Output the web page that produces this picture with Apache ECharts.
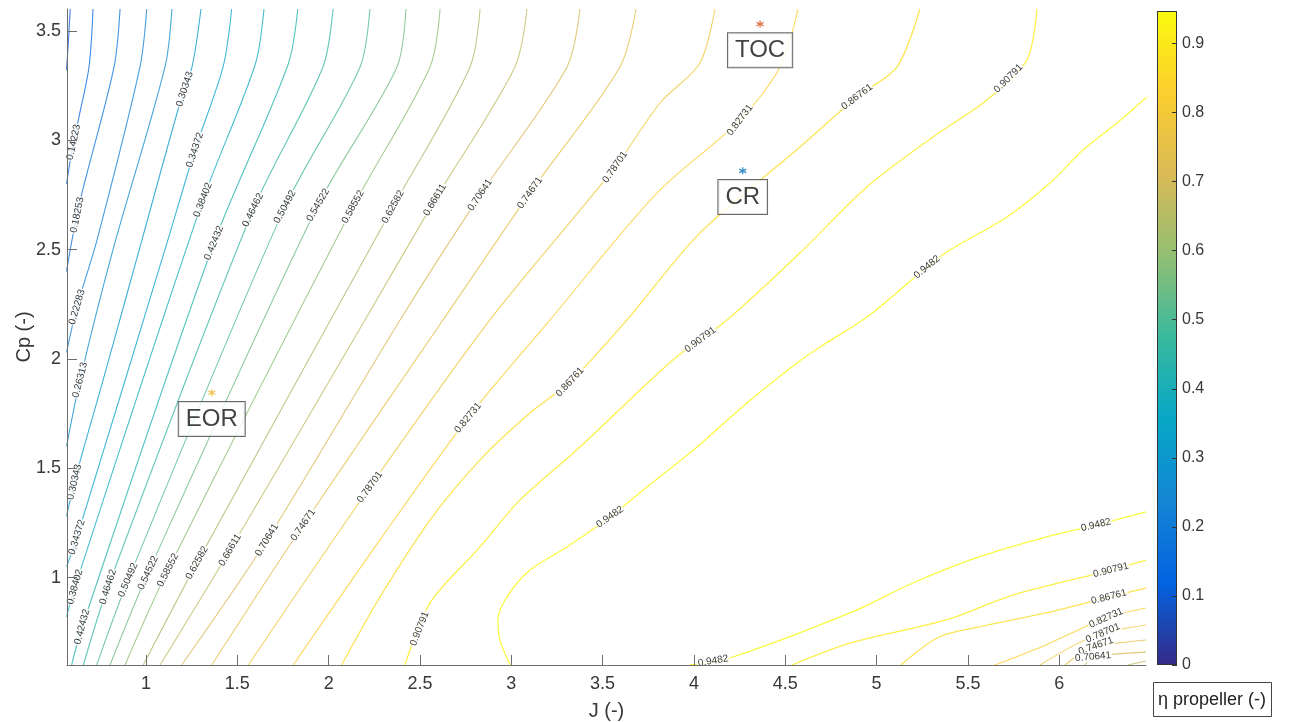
<!DOCTYPE html>
<html><head><meta charset="utf-8">
<script src="https://cdn.jsdelivr.net/npm/echarts@6/dist/echarts.min.js"></script>
<style>html,body{margin:0;padding:0;background:#fff}#c{width:1296px;height:722px}</style>
</head><body><div id="c"></div>
<script>
// ---------- data ----------
const xTicks = [1, 1.5, 2, 2.5, 3, 3.5, 4, 4.5, 5, 5.5, 6];
const yTicks = [1, 1.5, 2, 2.5, 3, 3.5];
const cbTicks = [0, 0.1, 0.2, 0.3, 0.4, 0.5, 0.6, 0.7, 0.8, 0.9];
const etaMin = 0, etaMax = 0.947;
const jRange = [0.5675, 6.475];
const cpRange = [0.6, 3.6];

const c_010193 = [[0.585,3.6],[0.575,3.45],[0.565,3.32]];
const c_014223 = [[0.710,3.6],[0.688,3.335],[0.633,3.106],[0.595,2.955],[0.565,2.80]];
const c_018253 = [[0.858,3.6],[0.825,3.335],[0.644,2.740],[0.595,2.544],[0.565,2.40]];
const c_022283 = [[1.004,3.6],[0.967,3.335],[0.732,2.544],[0.622,2.237],[0.565,2.03]];
const c_026313 = [[1.142,3.6],[1.104,3.335],[0.819,2.498],[0.639,1.903],[0.565,1.60]];
const c_030343 = [[1.301,3.6],[1.252,3.335],[1.175,3.138],[0.978,2.544],[0.765,1.903],[0.611,1.446],[0.565,1.28]];
const c_034372 = [[1.469,3.6],[1.422,3.335],[1.268,2.955],[1.120,2.544],[0.622,1.185],[0.565,1.05]];
const c_038402 = [[1.646,3.6],[1.597,3.344],[1.312,2.727],[0.611,0.957],[0.565,0.82]];
const c_042432 = [[1.831,3.6],[1.777,3.344],[1.372,2.530],[0.650,0.774],[0.593,0.6]];
const c_046462 = [[2.024,3.6],[1.969,3.335],[1.586,2.681],[0.792,0.957],[0.657,0.6]];
const c_050492 = [[2.226,3.6],[2.172,3.335],[1.761,2.695],[0.902,0.989],[0.730,0.6]];
const c_054522 = [[2.423,3.6],[2.374,3.335],[1.942,2.704],[1.011,1.021],[0.803,0.6]];
const c_058552 = [[2.610,3.6],[2.555,3.335],[2.133,2.695],[1.120,1.034],[0.885,0.6]];
const c_062582 = [[2.829,3.6],[2.774,3.335],[2.352,2.695],[1.279,1.067],[0.985,0.6]];
const c_066611 = [[3.086,3.6],[3.020,3.335],[2.582,2.727],[2.199,2.178],[1.460,1.126],[1.077,0.6]];
const c_070641 = [[3.376,3.6],[3.305,3.335],[2.829,2.749],[2.391,2.178],[1.662,1.172],[1.195,0.6]];
const c_074671 = [[3.683,3.6],[3.595,3.335],[3.102,2.759],[2.626,2.178],[1.860,1.240],[1.360,0.6]];
const c_078701 = [[4.115,3.6],[4.033,3.353],[3.814,3.170],[3.568,2.877],[2.883,2.178],[2.226,1.414],[1.560,0.6]];
const c_082731 = [[4.570,3.6],[4.471,3.335],[4.252,3.092],[3.798,2.759],[3.212,2.178],[2.763,1.730],[2.281,1.172],[1.806,0.6]];
const c_086761a = [[5.237,3.6],[5.112,3.335],[4.893,3.198],[4.580,2.969],[4.033,2.576],[3.633,2.178],[3.321,1.894],[3.102,1.752],[2.829,1.538],[2.555,1.263],[2.281,0.911],[2.071,0.6]];
const c_090791a = [[5.878,3.6],[5.823,3.367],[5.604,3.184],[5.309,3.015],[4.947,2.786],[4.580,2.484],[4.181,2.178],[3.885,1.995],[3.376,1.597],[3.048,1.355],[2.829,1.140],[2.555,0.884],[2.418,0.6]];
const c_09482a = [[2.993,0.6],[2.938,0.714],[2.927,0.806],[2.976,0.911],[3.102,1.034],[3.305,1.140],[3.540,1.277],[3.743,1.414],[4.017,1.597],[4.290,1.798],[4.564,1.981],[4.690,2.054],[4.947,2.191],[5.276,2.420],[5.402,2.498],[5.714,2.649],[5.949,2.804],[6.130,2.955],[6.316,3.079],[6.480,3.198]];
const c_09482b = [[3.978,0.6],[4.197,0.632],[4.854,0.838],[5.199,0.975],[5.560,1.094],[5.927,1.185],[6.201,1.240],[6.475,1.300]];
const c_090791b = [[4.537,0.6],[4.854,0.700],[5.380,0.806],[5.747,0.920],[6.283,1.034],[6.475,1.080]];
const c_086761b = [[5.133,0.6],[5.341,0.728],[5.560,0.774],[5.927,0.838],[6.272,0.911],[6.475,0.952]];
const c_082731b = [[5.648,0.6],[5.927,0.692],[6.256,0.815],[6.475,0.861]];
const c_078701b = [[5.894,0.6],[6.086,0.692],[6.239,0.746],[6.475,0.783]];
const c_074671b = [[6.031,0.6],[6.141,0.669],[6.201,0.687],[6.475,0.714]];
const c_070641b = [[6.141,0.6],[6.185,0.637],[6.475,0.659]];
const c_066611b = [[6.376,0.6],[6.475,0.618]];

const contourLines = [
  [0.10193, c_010193], [0.14223, c_014223], [0.18253, c_018253], [0.22283, c_022283],
  [0.26313, c_026313], [0.30343, c_030343], [0.34372, c_034372], [0.38402, c_038402],
  [0.42432, c_042432], [0.46462, c_046462], [0.50492, c_050492], [0.54522, c_054522],
  [0.58552, c_058552], [0.62582, c_062582], [0.66611, c_066611], [0.70641, c_070641],
  [0.74671, c_074671], [0.78701, c_078701], [0.82731, c_082731], [0.86761, c_086761a],
  [0.90791, c_090791a], [0.9482, c_09482a], [0.9482, c_09482b], [0.90791, c_090791b],
  [0.86761, c_086761b], [0.82731, c_082731b], [0.78701, c_078701b], [0.74671, c_074671b],
  [0.70641, c_070641b], [0.66611, c_066611b]
];

const contourLabels = [
  [0.14223,0.595,2.992],[0.18253,0.622,2.658],[0.22283,0.622,2.237],[0.26313,0.639,1.903],
  [0.30343,1.225,3.230],[0.30343,0.606,1.437],
  [0.34372,1.268,2.955],[0.34372,0.622,1.185],
  [0.38402,1.312,2.727],[0.38402,0.611,0.957],
  [0.42432,1.372,2.530],[0.42432,0.650,0.774],
  [0.46462,1.586,2.681],[0.46462,0.792,0.957],
  [0.50492,1.761,2.695],[0.50492,0.902,0.989],
  [0.54522,1.942,2.704],[0.54522,1.011,1.021],
  [0.58552,2.133,2.695],[0.58552,1.120,1.034],
  [0.62582,2.352,2.695],[0.62582,1.279,1.067],
  [0.66611,2.582,2.727],[0.66611,1.460,1.126],
  [0.70641,2.829,2.749],[0.70641,1.662,1.172],
  [0.74671,3.102,2.759],[0.74671,1.860,1.240],
  [0.78701,3.568,2.877],[0.78701,2.226,1.414],
  [0.82731,4.252,3.092],[0.82731,2.763,1.730],
  [0.86761,4.893,3.198],[0.86761,3.321,1.894],
  [0.90791,5.730,3.275],[0.90791,4.044,2.077],[0.90791,2.489,0.769],
  [0.9482,5.276,2.420],[0.9482,3.540,1.277],[0.9482,4.104,0.623],
  [0.9482,6.201,1.240],[0.90791,6.283,1.034],[0.86761,6.272,0.911],[0.82731,6.256,0.815],
  [0.78701,6.239,0.746],[0.74671,6.201,0.687],[0.70641,6.185,0.641]
];

const opNames = ['TOC', 'CR', 'EOR'];
const opJ = [4.362, 4.267, 1.360];
const opCp = [3.531, 2.860, 1.845];

// ---------- styles ----------
const FONT = '"Liberation Sans", Arial, Helvetica, sans-serif';
const opColors = ['#D95319', '#0072BD', '#EDB120'];
const parulaStops = ['#352a87','#0363e1','#1485d4','#06a7c6','#38b99e','#92bf73','#d9ba56','#fcce2e','#f9fb0e'];
function hex2rgb(h){return [parseInt(h.slice(1,3),16),parseInt(h.slice(3,5),16),parseInt(h.slice(5,7),16)];}
function parulaRGB(t){
  t = Math.max(0, Math.min(1, t));
  const n = parulaStops.length - 1, f = t * n;
  const i = Math.min(Math.floor(f), n - 1), u = f - i;
  const a = hex2rgb(parulaStops[i]), b = hex2rgb(parulaStops[i + 1]);
  return a.map((v, k) => v + (b[k] - v) * u);
}
function lineColor(t){
  const c = parulaRGB(t), w = 0.22;
  return 'rgb(' + c.map(v => Math.round(v * (1 - w) + 255 * w)).join(',') + ')';
}
const axisColor = '#6e6e6e', textColor = '#383838';

const chart = echarts.init(document.getElementById('c'), null, {renderer: 'canvas'});

const lineSeries = contourLines.map(([lv, pts]) => ({
  type: 'line', xAxisIndex: 0, yAxisIndex: 0, data: pts,
  symbol: 'none', showSymbol: false, silent: true, clip: true, z: 2, smooth: 0.3,
  lineStyle: {color: lineColor(lv / etaMax), width: lv > 0.85 ? 1.3 : 1.1}
}));

const opSeries = {
  type: 'scatter', xAxisIndex: 0, yAxisIndex: 0, z: 6, silent: true,
  symbol: 'path://M5,0L5,10M0.67,2.5L9.33,7.5M0.67,7.5L9.33,2.5', symbolSize: 7,
  data: opNames.map((n, i) => ({
    name: n, value: [opJ[i], opCp[i]],
    itemStyle: {color: 'rgba(0,0,0,0)', borderColor: opColors[i], borderWidth: 1.3}
  })),
  label: {
    show: true, position: 'bottom', distance: 5, formatter: '{b}',
    fontFamily: FONT, fontSize: 24, lineHeight: 25, color: '#111',
    backgroundColor: '#fff', borderColor: '#444', borderWidth: 1, padding: [5, 7, 4, 7]
  }
};

const cbGradient = new echarts.graphic.LinearGradient(0, 1, 0, 0,
  parulaStops.map((c, i) => ({offset: i / (parulaStops.length - 1), color: c})));

const cbSeries = {
  type: 'bar', xAxisIndex: 1, yAxisIndex: 1, data: [etaMax], barWidth: '100%', silent: true,
  itemStyle: {color: cbGradient, borderColor: '#333', borderWidth: 1}
};

const option = {
  animation: false,
  backgroundColor: '#fff',
  title: {
    text: 'η propeller (-)', left: 1153, top: 682,
    padding: [7, 6, 6, 5], borderColor: '#444', borderWidth: 1, backgroundColor: '#fff',
    textStyle: {fontFamily: FONT, fontSize: 18, fontWeight: 'normal', color: '#222', lineHeight: 22}
  },
  grid: [
    {left: 67, right: 150, top: 9, bottom: 57, containLabel: false, outerBoundsMode: 'none'},
    {left: 1157, right: 119, top: 11, bottom: 57, containLabel: false, outerBoundsMode: 'none'}
  ],
  xAxis: [{
    type: 'value', gridIndex: 0, min: jRange[0], max: jRange[1], z: 5,
    axisLine: {show: true, onZero: false, lineStyle: {color: axisColor, width: 1}},
    axisTick: {show: true, inside: true, length: 10, customValues: xTicks, lineStyle: {color: axisColor}},
    axisLabel: {customValues: xTicks, fontFamily: FONT, fontSize: 18, color: textColor, margin: 10},
    splitLine: {show: false},
    name: 'J (-)', nameLocation: 'middle', nameGap: 36, nameMoveOverlap: false,
    nameTextStyle: {fontFamily: FONT, fontSize: 20, color: textColor}
  }, {
    type: 'category', gridIndex: 1, data: ['η'], show: false
  }],
  yAxis: [{
    type: 'value', gridIndex: 0, min: cpRange[0], max: cpRange[1], z: 5,
    axisLine: {show: true, onZero: false, lineStyle: {color: axisColor, width: 1}},
    axisTick: {show: true, inside: true, length: 10, customValues: yTicks, lineStyle: {color: axisColor}},
    axisLabel: {customValues: yTicks, fontFamily: FONT, fontSize: 18, color: textColor, margin: 6},
    splitLine: {show: false},
    name: 'Cp (-)', nameLocation: 'middle', nameGap: 33, nameRotate: 90, nameMoveOverlap: false,
    nameTextStyle: {fontFamily: FONT, fontSize: 20, color: textColor}
  }, {
    type: 'value', gridIndex: 1, min: etaMin, max: etaMax, position: 'right', z: 5,
    axisLine: {show: false},
    axisTick: {show: true, inside: true, length: 5, customValues: cbTicks, lineStyle: {color: '#333'}},
    axisLabel: {customValues: cbTicks, fontFamily: FONT, fontSize: 16, color: textColor, margin: 5},
    splitLine: {show: false}
  }],
  series: lineSeries.concat([opSeries, cbSeries])
};

chart.setOption(option);

// ---------- contour labels: snap to line & rotate along it ----------
function buildLabels() {
  const pixLines = contourLines.map(([lv, pts]) => [lv, pts.map(p => chart.convertToPixel({gridIndex: 0}, p))]);
  return contourLabels.map(([lv, j, cp]) => {
    const p = chart.convertToPixel({gridIndex: 0}, [j, cp]);
    let best = null;
    pixLines.forEach(([l2, pp]) => {
      if (l2 !== lv) return;
      for (let k = 0; k < pp.length - 1; k++) {
        const a = pp[k], b = pp[k + 1];
        const dx = b[0] - a[0], dy = b[1] - a[1];
        const L2 = dx * dx + dy * dy || 1;
        let t = ((p[0] - a[0]) * dx + (p[1] - a[1]) * dy) / L2;
        t = Math.max(0, Math.min(1, t));
        const q = [a[0] + t * dx, a[1] + t * dy];
        const d = Math.hypot(q[0] - p[0], q[1] - p[1]);
        if (!best || d < best.d) best = {d, q, dx, dy};
      }
    });
    let ang = 0, pos = [j, cp];
    if (best) {
      ang = Math.atan2(-best.dy, best.dx) * 180 / Math.PI;
      if (ang > 90) ang -= 180;
      if (ang < -90) ang += 180;
      pos = chart.convertFromPixel({gridIndex: 0}, best.q);
    }
    return {name: String(lv), value: pos, label: {rotate: ang}};
  });
}

const labelSeries = {
  type: 'scatter', xAxisIndex: 0, yAxisIndex: 0, z: 4, silent: true,
  symbol: 'circle', symbolSize: 0,
  itemStyle: {color: 'rgba(0,0,0,0)'},
  data: buildLabels(),
  label: {
    show: true, position: 'inside', formatter: '{b}',
    fontFamily: FONT, fontSize: 10, color: '#000',
    backgroundColor: '#fff', padding: [0, 1]
  }
};

chart.setOption({series: option.series.concat([labelSeries])});
</script>
</body></html>
